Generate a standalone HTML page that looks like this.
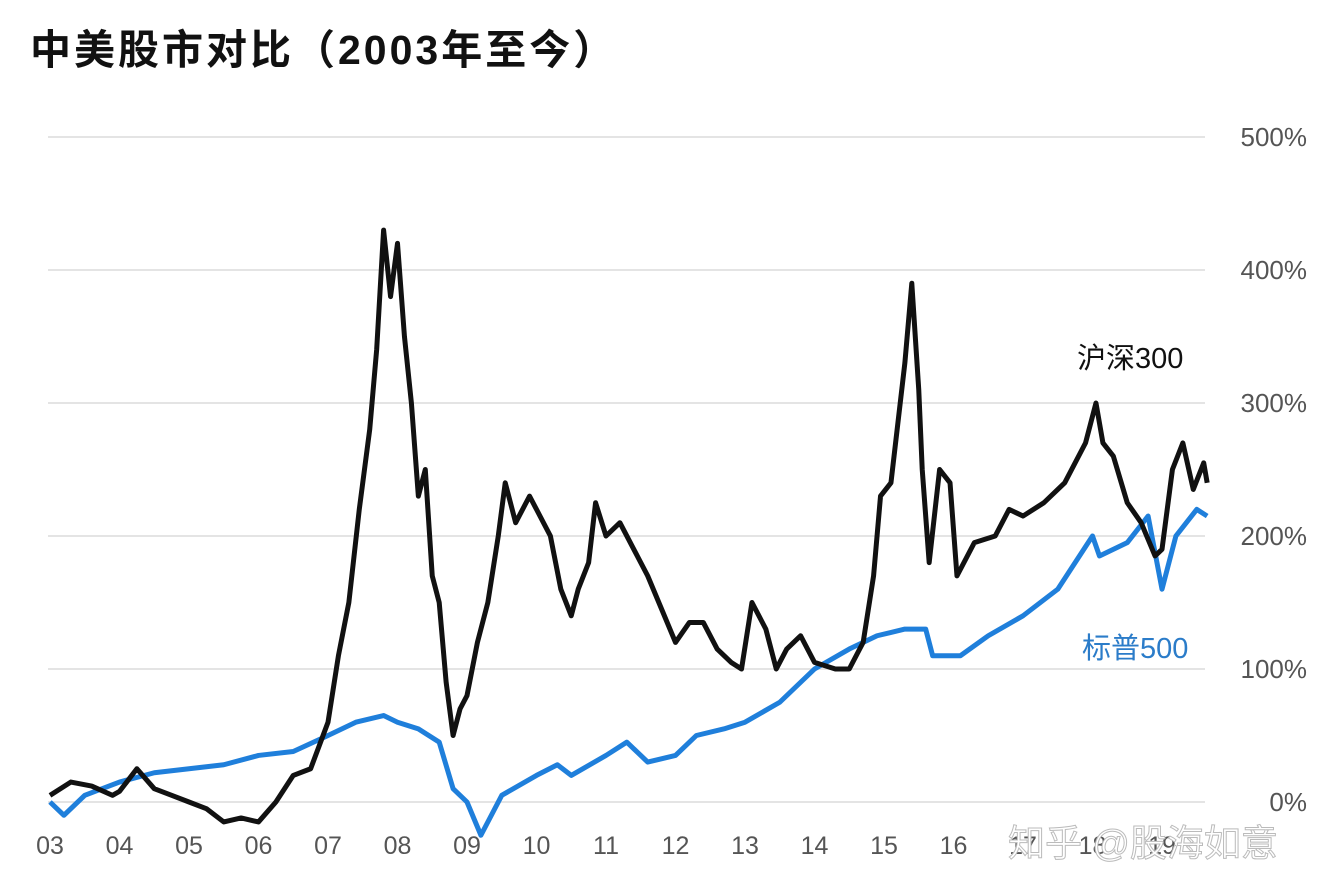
<!DOCTYPE html>
<html><head><meta charset="utf-8"><style>
body{margin:0;background:#fff;width:1324px;height:894px;overflow:hidden;font-family:"Liberation Sans","Noto Sans CJK SC",sans-serif}
#t{position:absolute;left:30px;top:16px;font-size:41px;font-weight:bold;color:#111;letter-spacing:3px}
</style></head><body>
<div id="t">中美股市对比（2003年至今）</div>
<svg id="c" width="1324" height="894" style="position:absolute;left:0;top:0"></svg>
<script>
const yTicks=[0,100,200,300,400,500];
const xYears=['03','04','05','06','07','08','09','10','11','12','13','14','15','16','17','18','19'];
const csiT=[2003,2003.3,2003.6,2003.9,2004,2004.25,2004.5,2004.75,2005,2005.25,2005.5,2005.75,2006,2006.25,2006.5,2006.75,2007,2007.15,2007.3,2007.45,2007.6,2007.7,2007.8,2007.9,2008,2008.1,2008.2,2008.3,2008.4,2008.5,2008.6,2008.7,2008.8,2008.9,2009,2009.15,2009.3,2009.45,2009.55,2009.7,2009.9,2010,2010.2,2010.35,2010.5,2010.6,2010.75,2010.85,2011,2011.2,2011.4,2011.6,2011.8,2012,2012.2,2012.4,2012.6,2012.8,2012.95,2013.1,2013.3,2013.45,2013.6,2013.8,2014,2014.3,2014.5,2014.7,2014.85,2014.95,2015.1,2015.3,2015.4,2015.5,2015.55,2015.65,2015.8,2015.95,2016.05,2016.3,2016.6,2016.8,2017,2017.3,2017.6,2017.9,2018.05,2018.15,2018.3,2018.5,2018.7,2018.9,2019,2019.15,2019.3,2019.45,2019.6,2019.65];
const csiV=[5,15,12,5,8,25,10,5,0,-5,-15,-12,-15,0,20,25,60,110,150,220,280,340,430,380,420,350,300,230,250,170,150,90,50,70,80,120,150,200,240,210,230,220,200,160,140,160,180,225,200,210,190,170,145,120,135,135,115,105,100,150,130,100,115,125,105,100,100,120,170,230,240,330,390,310,250,180,250,240,170,195,200,220,215,225,240,270,300,270,260,225,210,185,190,250,270,235,255,240];
const spT=[2003,2003.2,2003.5,2004,2004.5,2005,2005.5,2006,2006.5,2007,2007.4,2007.8,2008,2008.3,2008.6,2008.8,2009,2009.2,2009.5,2010,2010.3,2010.5,2011,2011.3,2011.6,2012,2012.3,2012.7,2013,2013.5,2014,2014.5,2014.9,2015.3,2015.6,2015.7,2016.1,2016.5,2017,2017.5,2018,2018.1,2018.5,2018.8,2019,2019.2,2019.5,2019.65];
const spV=[0,-10,5,15,22,25,28,35,38,50,60,65,60,55,45,10,0,-25,5,20,28,20,35,45,30,35,50,55,60,75,100,115,125,130,130,110,110,125,140,160,200,185,195,215,160,200,220,215];
const svg=document.getElementById('c');const NS='http://www.w3.org/2000/svg';
const X=t=>50+(t-2003)*69.5, Y=v=>802-v*1.33;
function mk(tag,a,txt){const e=document.createElementNS(NS,tag);for(const k in a)e.setAttribute(k,a[k]);if(txt!=null)e.textContent=txt;svg.appendChild(e);return e;}
yTicks.forEach(v=>{
 const l=mk('line',{x1:48,x2:1205,y1:Y(v),y2:Y(v),stroke:'#dcdcdc','stroke-width':1.5});
 
 
 const t=mk('text',{x:1307,y:Y(v)+9,'text-anchor':'end','font-size':26,fill:'#555'},v+'%');
 
 
});
xYears.forEach((s,i)=>{
 const t=mk('text',{x:X(2003+i),y:854,'text-anchor':'middle','font-size':25,fill:'#555'},s);
 
 
});
function line(T,V,col,name){
 const p=mk('polyline',{points:T.map((t,i)=>X(t)+','+Y(V[i])).join(' '),fill:'none',stroke:col,'stroke-width':5,'stroke-linejoin':'round'});
 
 
}
line(spT,spV,'#1f7fdb','sp500-line');
line(csiT,csiV,'#111','csi300-line');
const a=mk('text',{x:1077,y:368,'font-size':29,fill:'#111'},'沪深300');


const b=mk('text',{x:1082,y:658,'font-size':29,fill:'#2b7cc9'},'标普500');


const w=mk('text',{x:1008,y:856,'font-size':37,fill:'#fff',stroke:'#bbb','stroke-width':1},'知乎 @股海如意');


</script>
</body></html>
